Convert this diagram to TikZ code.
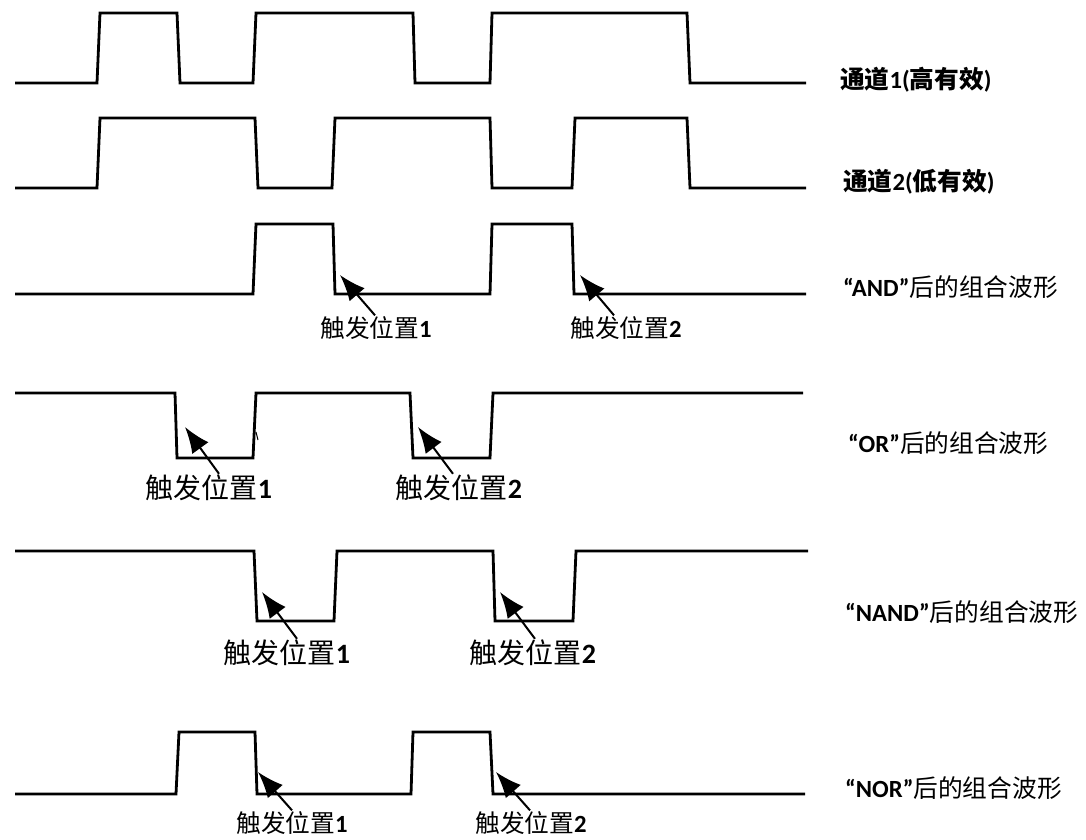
\documentclass[tikz,border=0pt]{standalone}
\usepackage{fontspec}
\usetikzlibrary{arrows.meta}
\newfontfamily\cjkfont{Noto Sans CJK SC}
\newfontfamily\latfont{Carlito}
\newcommand\latb[1]{{\latfont\bfseries #1}}
\newcommand\cjkb[1]{{\cjkfont\bfseries #1}}
\newcommand\cjkr[1]{{\cjkfont #1}}
\newcommand\trigtxt[1]{\cjkr{触发位置}\latb{#1}}
\tikzset{
  wave/.style={line width=2.8pt, line join=miter},
  trigarrow/.style={draw=black, line width=2pt, arrows={-Latex[length=26pt,width=20pt]}},
  rlab/.style={anchor=west,inner sep=0pt,font=\fontsize{24.7}{26}\selectfont},
  tsmall/.style={inner sep=1pt,font=\fontsize{24.7}{26}\selectfont},
  tbig/.style={inner sep=1pt,font=\fontsize{28}{30}\selectfont}}
\begin{document}
\begin{tikzpicture}[x=1pt,y=-1pt]
\useasboundingbox[fill=white] (0,0) rectangle (1086,839);

% waveforms
\draw[wave] (15,83)--(97,83)--(100,13)--(177,13)--(180,83)--(253,83)--(256,13)--(413,13)--(415,83)--(490,83)--(492,13)--(687,13)--(690,83)--(806,83);
\draw[wave] (15,188)--(97,188)--(100,118)--(255,118)--(258,188)--(332,188)--(335,118)--(490,118)--(492,188)--(572,188)--(575,118)--(687,118)--(690,188)--(806,188);
\draw[wave] (15,294)--(253,294)--(256,224)--(333,224)--(335,294)--(490,294)--(492,224)--(572,224)--(574,294)--(806,294);
\draw[wave] (15,393)--(175,393)--(177,458)--(253,458)--(256,393)--(410,393)--(413,458)--(490,458)--(493,393)--(803,393);
\draw[line width=1pt] (256,432)--(258,440);
\draw[wave] (15,551)--(254,551)--(257,621)--(334,621)--(337,551)--(493,551)--(495,621)--(573,621)--(576,551)--(808,551);
\draw[wave] (15,794)--(176,794)--(179,732)--(255,732)--(257,794)--(411,794)--(413,732)--(490,732)--(493,794)--(805,794);

% right labels
\node[rlab] (l1) at (840,80) {\cjkb{通道}\latb{1(}\cjkb{高有效}\latb{)}};
\node[rlab] (l2) at (843,182) {\cjkb{通道}\latb{2(}\cjkb{低有效}\latb{)}};
\node[rlab] (l3) at (843,287) {\latb{“AND”}\cjkr{后的组合波形}};
\node[rlab] (l4) at (848,443) {\latb{“OR”}\cjkr{后的组合波形}};
\node[rlab] (l5) at (845,612) {\latb{“NAND”}\cjkr{后的组合波形}};
\node[rlab] (l6) at (845,788) {\latb{“NOR”}\cjkr{后的组合波形}};

% trigger labels
\node[tsmall] (a1) at (376,328) {\trigtxt{1}};
\node[tsmall] (a2) at (626,328) {\trigtxt{2}};
\node[tbig] (o1) at (209,488) {\trigtxt{1}};
\node[tbig] (o2) at (459,488) {\trigtxt{2}};
\node[tbig] (n1) at (287,653) {\trigtxt{1}};
\node[tbig] (n2) at (533,653) {\trigtxt{2}};
\node[tsmall] (r1) at (292,823) {\trigtxt{1}};
\node[tsmall] (r2) at (531,823) {\trigtxt{2}};

% arrow tips
\coordinate (ta1) at (340,275);
\coordinate (ta2) at (580,275);
\coordinate (to1) at (185,427);
\coordinate (to2) at (418,427);
\coordinate (tn1) at (262,592);
\coordinate (tn2) at (500,592);
\coordinate (tr1) at (258,772);
\coordinate (tr2) at (496,772);

\draw[trigarrow] ([xshift=-1pt]a1.north) -- (ta1);
\draw[trigarrow] ([xshift=-12pt]a2.north) -- (ta2);
\draw[trigarrow] ([xshift=10pt]o1.north) -- (to1);
\draw[trigarrow] ([xshift=-6pt]o2.north) -- (to2);
\draw[trigarrow] ([xshift=10pt]n1.north) -- (tn1);
\draw[trigarrow] ([xshift=2pt]n2.north) -- (tn2);
\draw[trigarrow] (r1.north) -- (tr1);
\draw[trigarrow] ([xshift=-1pt]r2.north) -- (tr2);
\end{tikzpicture}
\end{document}
